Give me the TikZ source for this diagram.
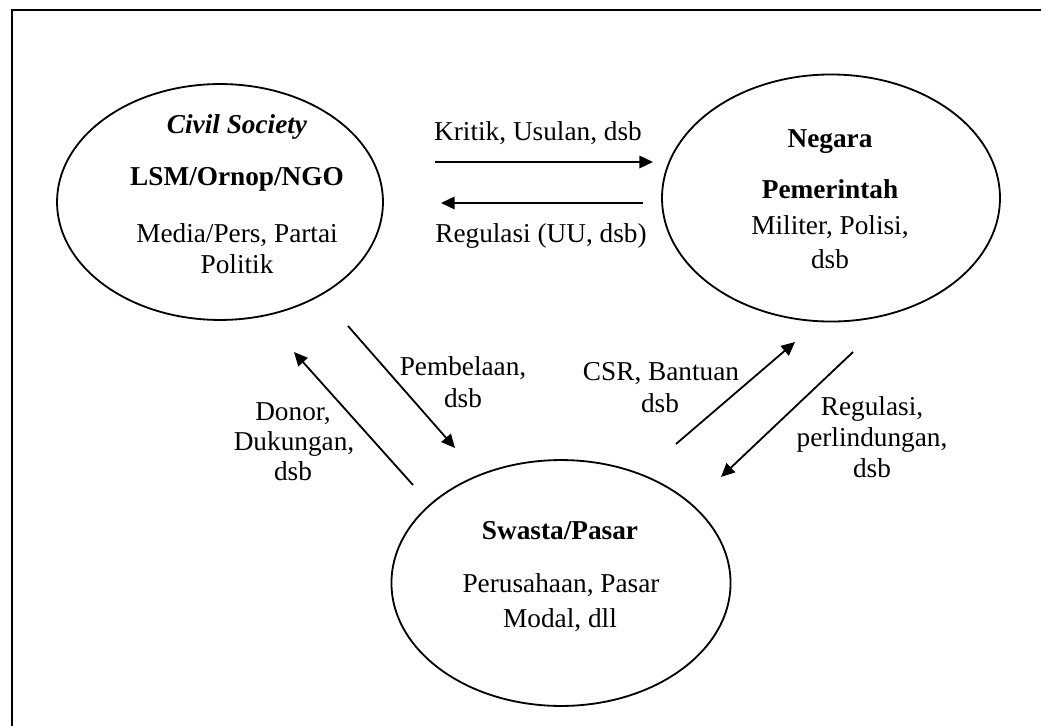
\documentclass[tikz,border=0pt]{standalone}
\usepackage{fontspec}
\setmainfont{Liberation Serif}
\usetikzlibrary{arrows.meta,shapes.geometric}

\begin{document}
\begin{tikzpicture}[x=0.44pt,y=-0.44pt,
  sektor/.style={draw,ellipse,line width=0.8pt,inner sep=0pt},
  teks/.style={font=\fontsize{12}{14}\selectfont,anchor=base,inner sep=0pt},
  panah/.style={line width=0.8pt,-{Triangle[length=6pt,width=5.5pt]}}]
  \useasboundingbox (0,0) rectangle (1041,725);
  \clip (0,0) rectangle (1041,725);

  % frame (only top and left edges show)
  \draw[line width=1pt] (12,780) -- (12,10) -- (1090,10);

  % Civil society
  \node[sektor,minimum width=143.4pt,minimum height=103.8pt] (civil) at (220,202) {};
  \node[teks] (civil1) at (237,133) {\textbf{\textit{Civil Society}}};
  \node[teks] (civil2) at (237,185) {\textbf{LSM/Ornop/NGO}};
  \node[teks] (civil3) at (237,242) {Media/Pers, Partai};
  \node[teks] (civil4) at (237,273) {Politik};

  % Negara
  \node[sektor,minimum width=148.7pt,minimum height=108.7pt] (negara) at (831,198) {};
  \node[teks] (negara1) at (830,147) {\textbf{Negara}};
  \node[teks] (negara2) at (830,198) {\textbf{Pemerintah}};
  \node[teks] (negara3) at (830,234) {Militer, Polisi,};
  \node[teks] (negara4) at (830,268) {dsb};

  % Swasta
  \node[sektor,minimum width=149.2pt,minimum height=108.2pt] (swasta) at (561,583) {};
  \node[teks] (swasta1) at (560,539) {\textbf{Swasta/Pasar}};
  \node[teks] (swasta2) at (561,592) {Perusahaan, Pasar};
  \node[teks] (swasta3) at (560,627) {Modal, dll};

  % civil <-> negara
  \coordinate (kritikA) at (435,162);
  \coordinate (kritikB) at (653,162);
  \draw[panah] (kritikA) -- (kritikB);
  \node[teks] (kritik) at (538,140) {Kritik, Usulan, dsb};

  \coordinate (uuA) at (643,203);
  \coordinate (uuB) at (441,203);
  \draw[panah] (uuA) -- (uuB);
  \node[teks] (uu) at (541,242) {Regulasi (UU, dsb)};

  % civil <-> swasta
  \coordinate (belaA) at (348,326);
  \coordinate (belaB) at (455,448);
  \draw[panah] (belaA) -- (belaB);
  \node[teks] (bela1) at (463,375) {Pembelaan,};
  \node[teks] (bela2) at (463,407) {dsb};

  \coordinate (donorA) at (413,485);
  \coordinate (donorB) at (294,352);
  \draw[panah] (donorA) -- (donorB);
  \node[teks] (donor1) at (293,420) {Donor,};
  \node[teks] (donor2) at (294,450) {Dukungan,};
  \node[teks] (donor3) at (293,480) {dsb};

  % swasta <-> negara
  \coordinate (csrA) at (676,444);
  \coordinate (csrB) at (795,342);
  \draw[panah] (csrA) -- (csrB);
  \node[teks] (csr1) at (661,380) {CSR, Bantuan};
  \node[teks] (csr2) at (660,412) {dsb};

  \coordinate (lindungA) at (853,352);
  \coordinate (lindungB) at (721,477);
  \draw[panah] (lindungA) -- (lindungB);
  \node[teks] (lindung1) at (872,415) {Regulasi,};
  \node[teks] (lindung2) at (872,446) {perlindungan,};
  \node[teks] (lindung3) at (872,477) {dsb};
\end{tikzpicture}
\end{document}
